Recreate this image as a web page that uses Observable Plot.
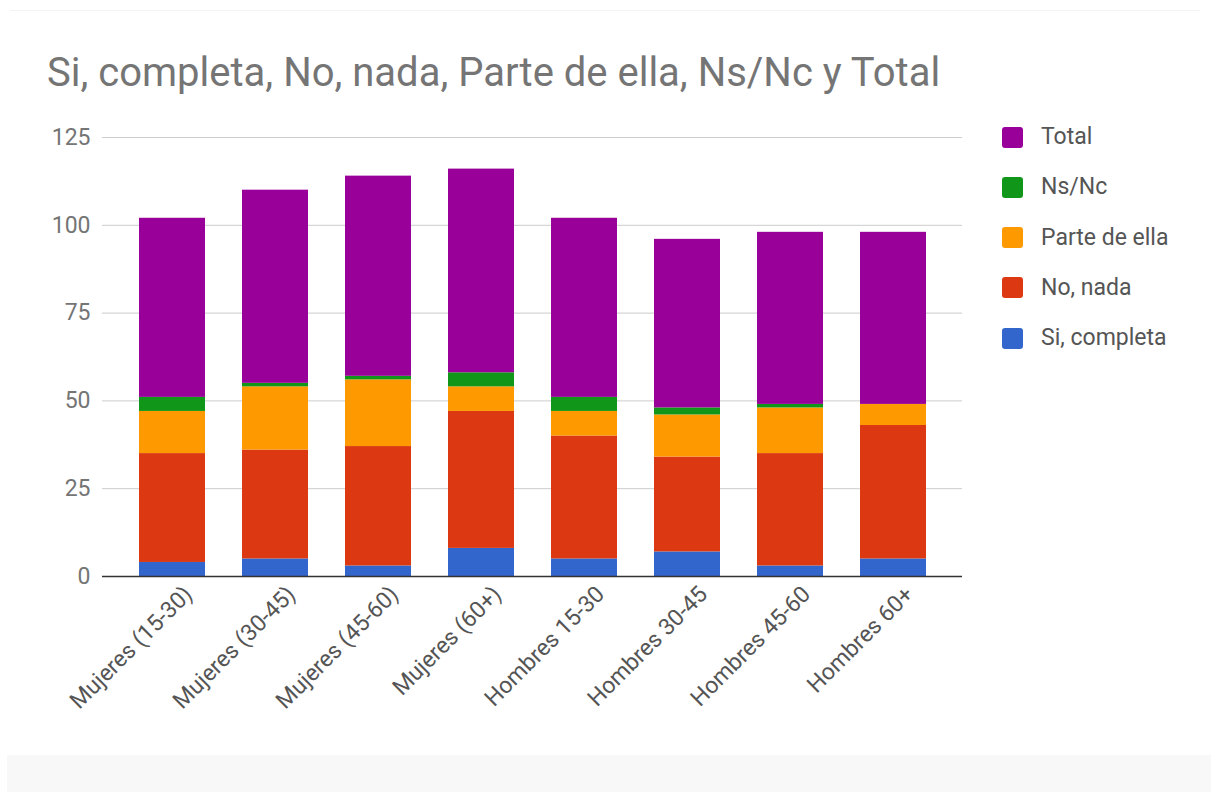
<!DOCTYPE html>
<html>
<head>
<meta charset="utf-8">
<script src="https://cdn.jsdelivr.net/npm/d3@7"></script>
<script src="https://cdn.jsdelivr.net/npm/@observablehq/plot@0.6"></script>
<style>
  html, body { margin: 0; padding: 0; background: #ffffff; }
  #wrap { position: relative; width: 1211px; height: 792px; overflow: hidden; font-family: Roboto, "Noto Sans", sans-serif; }
  #strip { position: absolute; left: 7px; top: 755px; width: 1204px; height: 37px; background: #f8f8f8; }
  #card { position: absolute; left: 10px; top: 10px; width: 1190px; height: 745px; border-top: 1px solid #f3f3f3; }
  #title { position: absolute; left: 47px; top: 49px; font-size: 40px; line-height: 48px; color: #757575; white-space: nowrap; }
  #legend { position: absolute; left: 1002px; top: 0; }
  .li { position: absolute; left: 0; white-space: nowrap; font-size: 23px; line-height: 28px; color: #555; }
  .sw { position: absolute; left: 0; width: 21px; height: 21px; border-radius: 3px; }
  .lt { position: absolute; left: 39px; top: -14px; }
  #plot { position: absolute; left: 0; top: 0; }
</style>
</head>
<body>
<div id="wrap">
  <div id="card"></div>
  <div id="strip"></div>
  <div id="title"></div>
  <div id="plot"></div>
  <div id="legend"></div>
</div>
<script>
const titleText = "Si, completa, No, nada, Parte de ella, Ns/Nc y Total";
const categories = ["Mujeres (15-30)", "Mujeres (30-45)", "Mujeres (45-60)", "Mujeres (60+)", "Hombres 15-30", "Hombres 30-45", "Hombres 45-60", "Hombres 60+"];
const seriesNames = ["Si, completa", "No, nada", "Parte de ella", "Ns/Nc", "Total"];
const seriesColors = ["#3366cc", "#dc3912", "#ff9900", "#109618", "#990099"];
const siCompleta  = [4, 5, 3, 8, 5, 7, 3, 5];
const noNada      = [31, 31, 34, 39, 35, 27, 32, 38];
const parteDeElla = [12, 18, 19, 7, 7, 12, 13, 6];
const nsNc        = [4, 1, 1, 4, 4, 2, 1, 0];
const total       = [51, 55, 57, 58, 51, 48, 49, 49];
const yTicks = [0, 25, 50, 75, 100, 125];

const seriesValues = [siCompleta, noNada, parteDeElla, nsNc, total];
const data = [];
seriesNames.forEach((s, si) => {
  categories.forEach((c, ci) => data.push({category: c, series: s, value: seriesValues[si][ci]}));
});

document.getElementById("title").textContent = titleText;

const chart = Plot.plot({
  width: 1211,
  height: 792,
  marginTop: 137,
  marginBottom: 216,
  marginLeft: 102,
  marginRight: 249,
  style: {fontFamily: "Roboto, 'Noto Sans', sans-serif", background: "transparent", overflow: "visible"},
  x: {domain: categories, range: [120.5, 944.5], paddingInner: 0.36, paddingOuter: 0.18, label: null},
  y: {domain: [0, 125], label: null},
  color: {domain: seriesNames, range: seriesColors},
  marks: [
    Plot.ruleY(yTicks.filter(d => d > 0), {stroke: "#cccccc", strokeWidth: 1}),
    Plot.barY(data, Plot.stackY({order: seriesNames}, {x: "category", y: "value", fill: "series", z: "series"})),
    Plot.ruleY([0], {stroke: "#333333", strokeWidth: 1.5}),
    Plot.axisY({ticks: yTicks, tickSize: 0, tickPadding: 12, fontSize: 23, fill: "#757575", label: null}),
    Plot.axisX({tickSize: 0, tickRotate: -45, tickPadding: 6, dx: 16, dy: 8, fontSize: 23, fill: "#555555", label: null})
  ]
});
document.getElementById("plot").appendChild(chart);

const legend = document.getElementById("legend");
const legendTop = 137, legendStep = 50.3;
seriesNames.slice().reverse().forEach((s, i) => {
  const idx = seriesNames.indexOf(s);
  const item = document.createElement("div");
  item.className = "li";
  item.style.top = (legendTop + i * legendStep) + "px";
  const sw = document.createElement("div");
  sw.className = "sw";
  sw.style.top = "-10.5px";
  sw.style.background = seriesColors[idx];
  const t = document.createElement("div");
  t.className = "lt";
  t.textContent = s;
  item.appendChild(sw);
  item.appendChild(t);
  legend.appendChild(item);
});
</script>
</body>
</html>
